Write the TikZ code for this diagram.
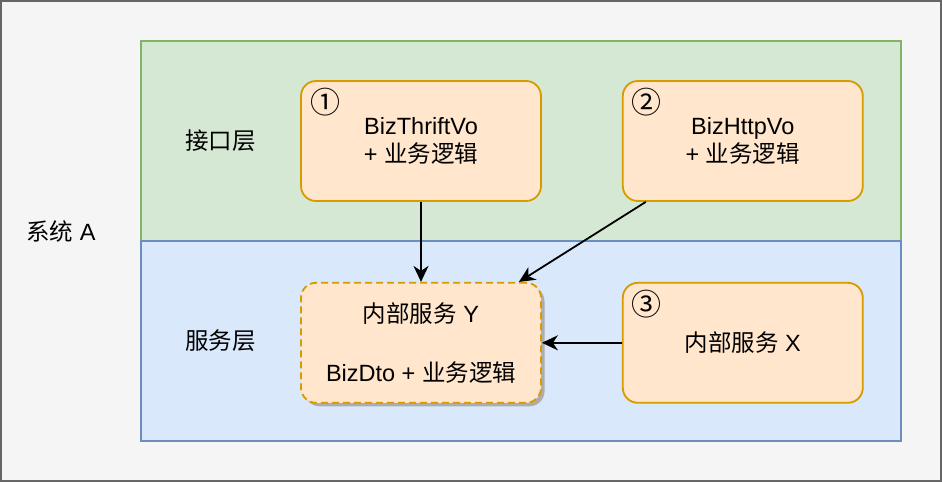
\documentclass[tikz,border=0pt]{standalone}
\usepackage{fontspec}
\setmainfont{Liberation Sans}
\newfontfamily\cjk{Noto Sans CJK SC}
\usetikzlibrary{arrows.meta,positioning,shadows}
\definecolor{sysfill}{HTML}{F5F5F5}
\definecolor{sysline}{HTML}{666666}
\definecolor{apifill}{HTML}{D5E8D4}
\definecolor{apiline}{HTML}{82B366}
\definecolor{svcfill}{HTML}{DAE8FC}
\definecolor{svcline}{HTML}{6C8EBF}
\definecolor{boxfill}{HTML}{FFE6CC}
\definecolor{boxline}{HTML}{D79B00}

\begin{document}
\begin{tikzpicture}[x=1pt,y=-1pt,>={Stealth[length=16pt,width=15pt,inset=5pt]},
                    node distance=80pt,font=\fontsize{23.5}{28}\selectfont]
\tikzstyle{layer}=[draw,line width=1.4pt,minimum width=760pt,minimum height=200pt,inner sep=0pt]
\tikzstyle{bizbox}=[draw=boxline,fill=boxfill,line width=1.8pt,rounded corners=15pt,
                    minimum width=240pt,minimum height=120pt,inner sep=0pt,align=center]
\tikzstyle{tag}=[inner sep=0pt]
\tikzstyle{num}=[inner sep=0pt,font=\cjk\fontsize{30}{30}\selectfont]
\useasboundingbox (0,0) rectangle (942,482);
\node [draw=sysline,fill=sysfill,line width=2pt,minimum width=940pt,minimum height=480pt] (sys) at (471,241) {};
\node [layer,draw=apiline,fill=apifill] (api) at (521,141) {};
\node [layer,draw=svcline,fill=svcfill] (svc) at (521,341) {};

\node [tag] at (61,231) {{\cjk 系统} A};
\node [tag] at ([xshift=80pt]api.west) {\cjk 接口层};
\node [tag] at ([xshift=80pt]svc.west) {\cjk 服务层};

\node [bizbox] (thrift) at (421,141) {BizThriftVo\\+ {\cjk 业务逻辑}};
\node [bizbox] [right=of thrift] (http) {BizHttpVo\\+ {\cjk 业务逻辑}};
\node [bizbox,dash pattern=on 7pt off 4pt,
       drop shadow={shadow xshift=3.5pt,shadow yshift=-3.5pt,fill=black!32,opacity=1}]
      [below=of thrift] (svcy) {{\cjk 内部服务} Y\\[31pt]BizDto + {\cjk 业务逻辑}};
\node [bizbox] [right=of svcy] (svcx) {{\cjk 内部服务} X};

\node [num] at ([xshift=25pt,yshift=-22pt]thrift.north west) {①};
\node [num] at ([xshift=25pt,yshift=-22pt]http.north west) {②};
\node [num] at ([xshift=25pt,yshift=-22pt]svcx.north west) {③};

\draw [->,line width=1.8pt] (thrift) -- (svcy);
\draw [->,line width=1.8pt] ([xshift=-97pt]http.south) -- ([xshift=-23pt]svcy.north east);
\draw [->,line width=1.8pt] (svcx) -- (svcy);
\end{tikzpicture}
\end{document}
